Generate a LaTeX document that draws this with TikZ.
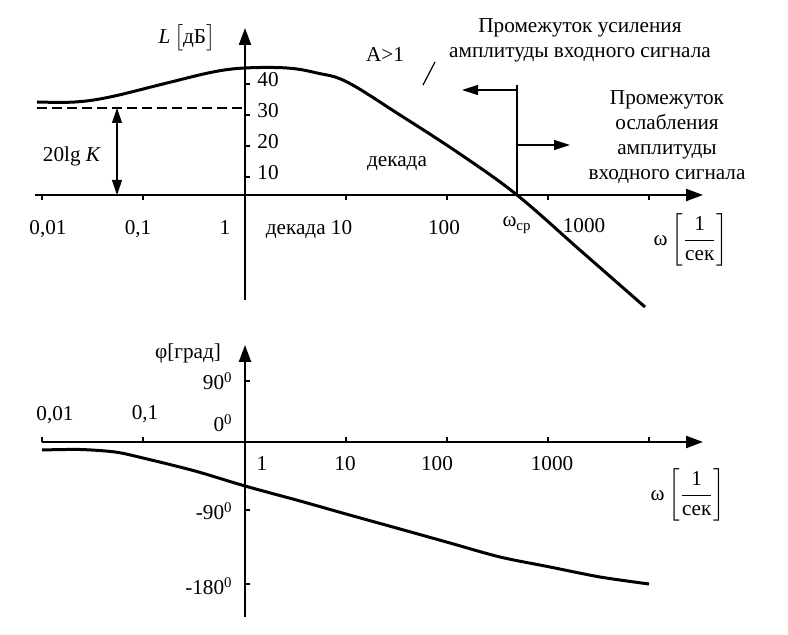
\documentclass[tikz,border=0pt]{standalone}
\usepackage{fontspec}
\setmainfont{Liberation Serif}
\usepackage{amsmath}
\usetikzlibrary{positioning}
\usetikzlibrary{calc}
\usetikzlibrary{arrows.meta}

\begin{document}
\begin{tikzpicture}[x=0.5pt, y=-0.5pt,
        every node/.style={font=\fontsize{10.6pt}{12.5pt}\selectfont, inner sep=1pt},
        lab/.style={anchor=base},
        axis/.style={line width=1.1pt, -{Triangle[length=8.5pt,width=6pt]}},
        curve/.style={line width=1.5pt, line join=round},
        tickmark/.style={line width=1.1pt},
        guide/.style={line width=0.6pt},
        arr/.style={line width=0.6pt, -{Triangle[length=8pt,width=5pt]}}]

    \useasboundingbox (0,0) rectangle (788,635);

    % amplitude
    \coordinate (L0) at (245,195);
    \coordinate (Ltop) at (245,28);
    \coordinate (Lbot) at (245,300);
    \coordinate (Lleft) at (35,195);
    \coordinate (Lright) at (703,195);
    \draw[axis] (Lbot) -- (Ltop);
    \draw[axis] (Lleft) -- (Lright);

    \foreach \x in {42,143,346,447,548,649}
        \draw[tickmark] (\x,195) -- (\x,200);
    \foreach \y/\t in {84/40,115/30,146/20,177/10} {
        \draw[tickmark] (245,\y) -- (250,\y);
        \node[anchor=base west] (L\t) at (255,\y+3) {\t};
    }

    \node (Lname) at (187,38) {\textit{L}\,$\bigl[$дБ$\bigr]$};
    \node[lab] (w001) at (48,235) {0,01};
    \node[lab] (w01) at (138,235) {0,1};
    \node[lab] (w1) at (225,235) {1};
    \node[lab] (w10) at (309,235) {декада 10};
    \node[lab] (w100) at (444,235) {100};
    \node[lab] (wcp) at (517,227) {ω\textsubscript{ср}};
    \node[lab] (w1000) at (584,233) {1000};
    \node (Lw) at (691,240) {ω\,$\left[\dfrac{\text{1}}{\text{сек}}\right]$};

    \draw[curve] plot[smooth, tension=0.6] coordinates {(37,102) (75,102) (110,97)
        (167,83) (213,72) (245,68) (287,68) (317,73) (347,82) (400,115)
        (460,154) (517,195) (581,251) (645,307)};

    \coordinate (K1) at (37,108);
    \coordinate (K2) at (245,108);
    \draw[guide, dash pattern=on 5pt off 2.5pt] (K1) -- (K2);
    \coordinate (Ka) at (117,108);
    \coordinate (Kb) at (117,195);
    \draw[guide, {Triangle[length=7.5pt,width=5pt]}-{Triangle[length=7.5pt,width=5pt]}] (Ka) -- (Kb);
    \node[lab] (K) at (72,162) {20lg \textit{K}};

    \node[lab] (A1) at (385,62) {A>1};
    \node[lab] (dec) at (397,167) {декада};
    \coordinate (s1) at (423,85);
    \coordinate (s2) at (435,62);
    \draw[guide] (s1) -- (s2);

    \coordinate (cp) at (517,195);
    \coordinate (cptop) at (517,85);
    \coordinate (gl) at (517,90);
    \coordinate (gr) at (517,145);
    \coordinate (gltip) at (462,90);
    \coordinate (grtip) at (570,145);
    \draw[guide] (cp) -- (cptop);
    \draw[arr] (gl) -- (gltip);
    \draw[arr] (gr) -- (grtip);

    \node[align=center] (gain) at (580,40) {Промежуток усиления\\амплитуды входного сигнала};
    \node[align=center] (loss) at (667,137) {Промежуток\\ослабления\\амплитуды\\входного сигнала};

    % phase
    \coordinate (F0) at (245,442);
    \coordinate (Ftop) at (245,345);
    \coordinate (Fbot) at (245,617);
    \coordinate (Fleft) at (42,442);
    \coordinate (Fright) at (703,442);
    \draw[axis] (Fbot) -- (Ftop);
    \draw[axis] (Fleft) -- (Fright);

    \foreach \x in {42,143,346,447,548,649}
        \draw[tickmark] (\x,442) -- (\x,437);
    \foreach \y in {381,510,584}
        \draw[tickmark] (245,\y) -- (250,\y);

    \node (Fname) at (188,353) {φ[град]};
    \node[anchor=base east] (F90) at (235,390) {90\textsuperscript{0}};
    \node[anchor=base east] (F0l) at (235,432) {0\textsuperscript{0}};
    \node[anchor=base east] (Fm90) at (235,520) {-90\textsuperscript{0}};
    \node[anchor=base east] (Fm180) at (235,595) {-180\textsuperscript{0}};
    \node[lab] (p001) at (55,421) {0,01};
    \node[lab] (p01) at (145,420) {0,1};
    \node[lab] (p1) at (262,471) {1};
    \node[lab] (p10) at (345,471) {10};
    \node[lab] (p100) at (437,471) {100};
    \node[lab] (p1000) at (552,471) {1000};
    \node (Fw) at (688,495) {ω\,$\left[\dfrac{\text{1}}{\text{сек}}\right]$};

    \draw[curve] plot[smooth, tension=0.5] coordinates {(42,450) (80,449.5) (115,452)
        (143,458) (195,471) (245,486) (300,501) (346,514) (400,529) (450,543)
        (500,557) (550,567) (600,577) (649,584)};

\end{tikzpicture}
\end{document}
